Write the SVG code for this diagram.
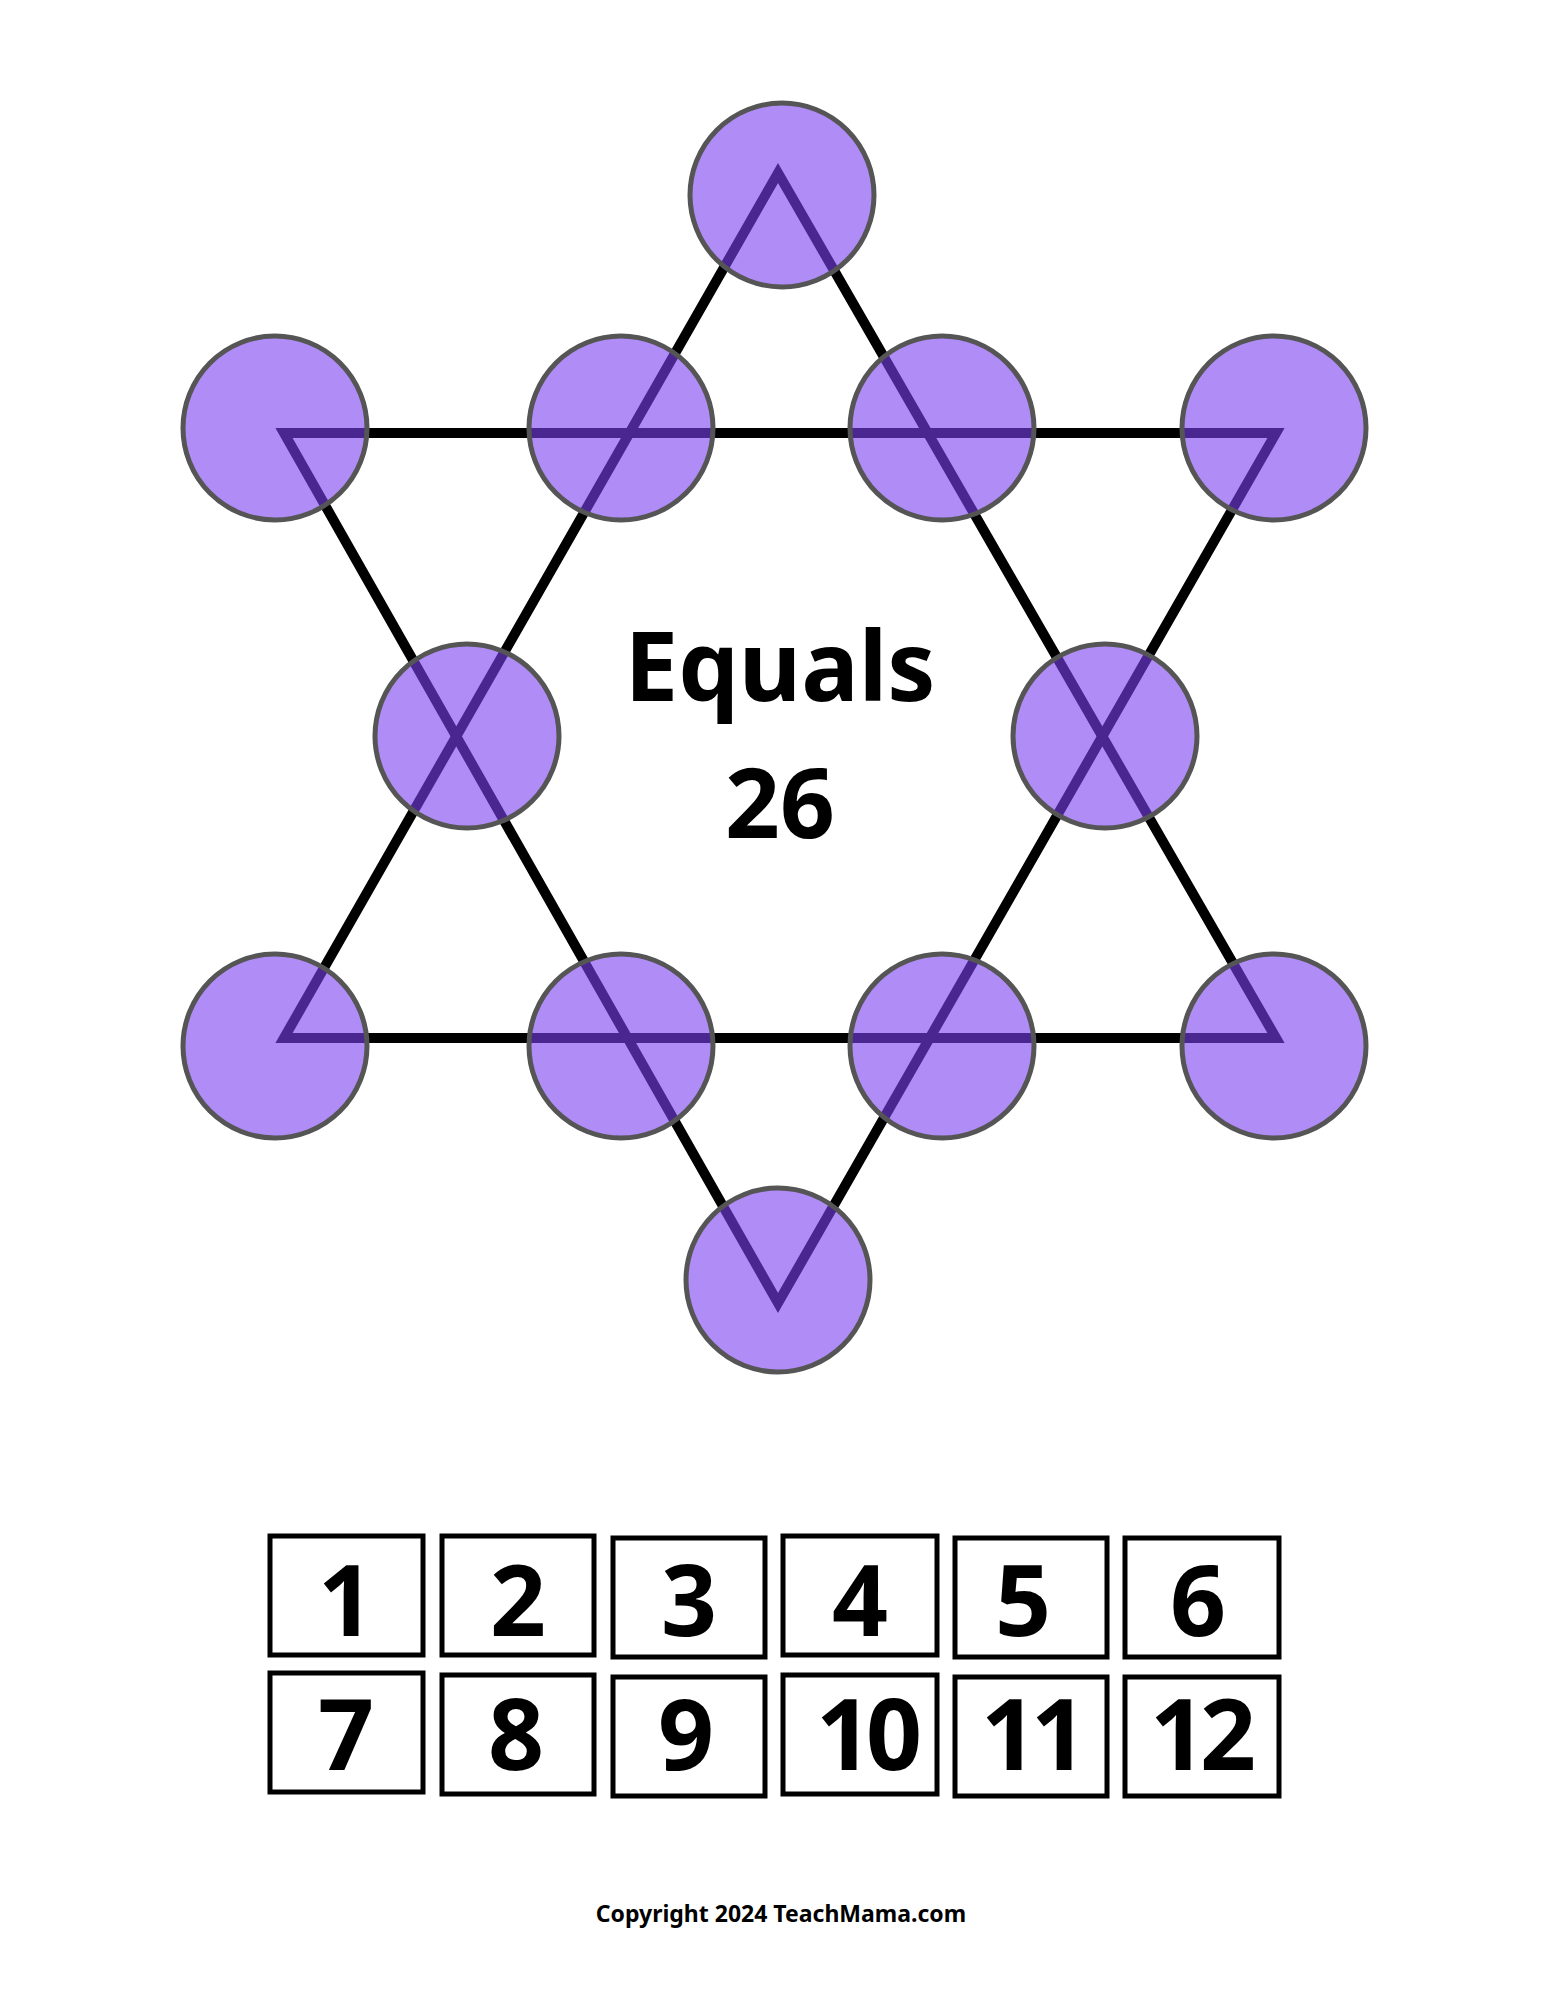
<svg xmlns="http://www.w3.org/2000/svg" width="1545" height="2000" viewBox="0 0 1545 2000">
<style>
.c{fill:#7b3ff2;fill-opacity:0.6;stroke:#555;stroke-width:5}
.l{fill:none;stroke:#000;stroke-width:10;stroke-linejoin:miter}
.b{fill:#fff;stroke:#000;stroke-width:5}
.t{font-family:"Noto Sans",sans-serif;font-weight:bold;fill:#000;text-anchor:middle}
</style>
<rect width="1545" height="2000" fill="#fff"/>
<g id="connectors">
<polygon class="l" points="778,173 1276,1038 284,1038"/>
<polygon class="l" points="284,433 1276,433 778,1303"/>
</g>
<g id="n1"><circle class="c" cx="782" cy="195" r="92"/></g>
<g id="n2"><circle class="c" cx="275" cy="428" r="92"/></g>
<g id="n3"><circle class="c" cx="621" cy="428" r="92"/></g>
<g id="n4"><circle class="c" cx="942" cy="428" r="92"/></g>
<g id="n5"><circle class="c" cx="1274" cy="428" r="92"/></g>
<g id="n6"><circle class="c" cx="467" cy="736" r="92"/></g>
<g id="n7"><circle class="c" cx="1105" cy="736" r="92"/></g>
<g id="n8"><circle class="c" cx="275" cy="1046" r="92"/></g>
<g id="n9"><circle class="c" cx="621" cy="1046" r="92"/></g>
<g id="n10"><circle class="c" cx="942" cy="1046" r="92"/></g>
<g id="n11"><circle class="c" cx="1274" cy="1046" r="92"/></g>
<g id="n12"><circle class="c" cx="778" cy="1280" r="92"/></g>
<g id="title">
<text class="t" x="780" y="701" font-size="96">Equals</text>
<text class="t" x="780" y="838" font-size="96">26</text>
</g>
<g id="tiles">
<rect class="b" x="270" y="1536" width="153" height="119"/><text class="t" x="346" y="1636" font-size="98">1</text>
<rect class="b" x="442" y="1536" width="152" height="119"/><text class="t" x="518" y="1636" font-size="98">2</text>
<rect class="b" x="613" y="1538" width="152" height="119"/><text class="t" x="689" y="1636" font-size="98">3</text>
<rect class="b" x="783" y="1536" width="154" height="119"/><text class="t" x="860" y="1636" font-size="98">4</text>
<rect class="b" x="955" y="1538" width="152" height="119"/><text class="t" x="1023" y="1636" font-size="98">5</text>
<rect class="b" x="1125" y="1538" width="154" height="119"/><text class="t" x="1198" y="1636" font-size="98">6</text>
<rect class="b" x="270" y="1673" width="153" height="119"/><text class="t" x="346" y="1770" font-size="98">7</text>
<rect class="b" x="442" y="1675" width="152" height="119"/><text class="t" x="516" y="1770" font-size="98">8</text>
<rect class="b" x="613" y="1677" width="152" height="119"/><text class="t" x="686" y="1770" font-size="98">9</text>
<rect class="b" x="783" y="1675" width="154" height="119"/><text class="t" x="866" y="1770" font-size="98" letter-spacing="-6">10</text>
<rect class="b" x="955" y="1677" width="152" height="119"/><text class="t" x="1031" y="1770" font-size="98" letter-spacing="-6">11</text>
<rect class="b" x="1125" y="1677" width="154" height="119"/><text class="t" x="1200" y="1770" font-size="98" letter-spacing="-6">12</text>
</g>
<text class="t" x="781" y="1922" font-size="23">Copyright 2024 TeachMama.com</text>
</svg>
